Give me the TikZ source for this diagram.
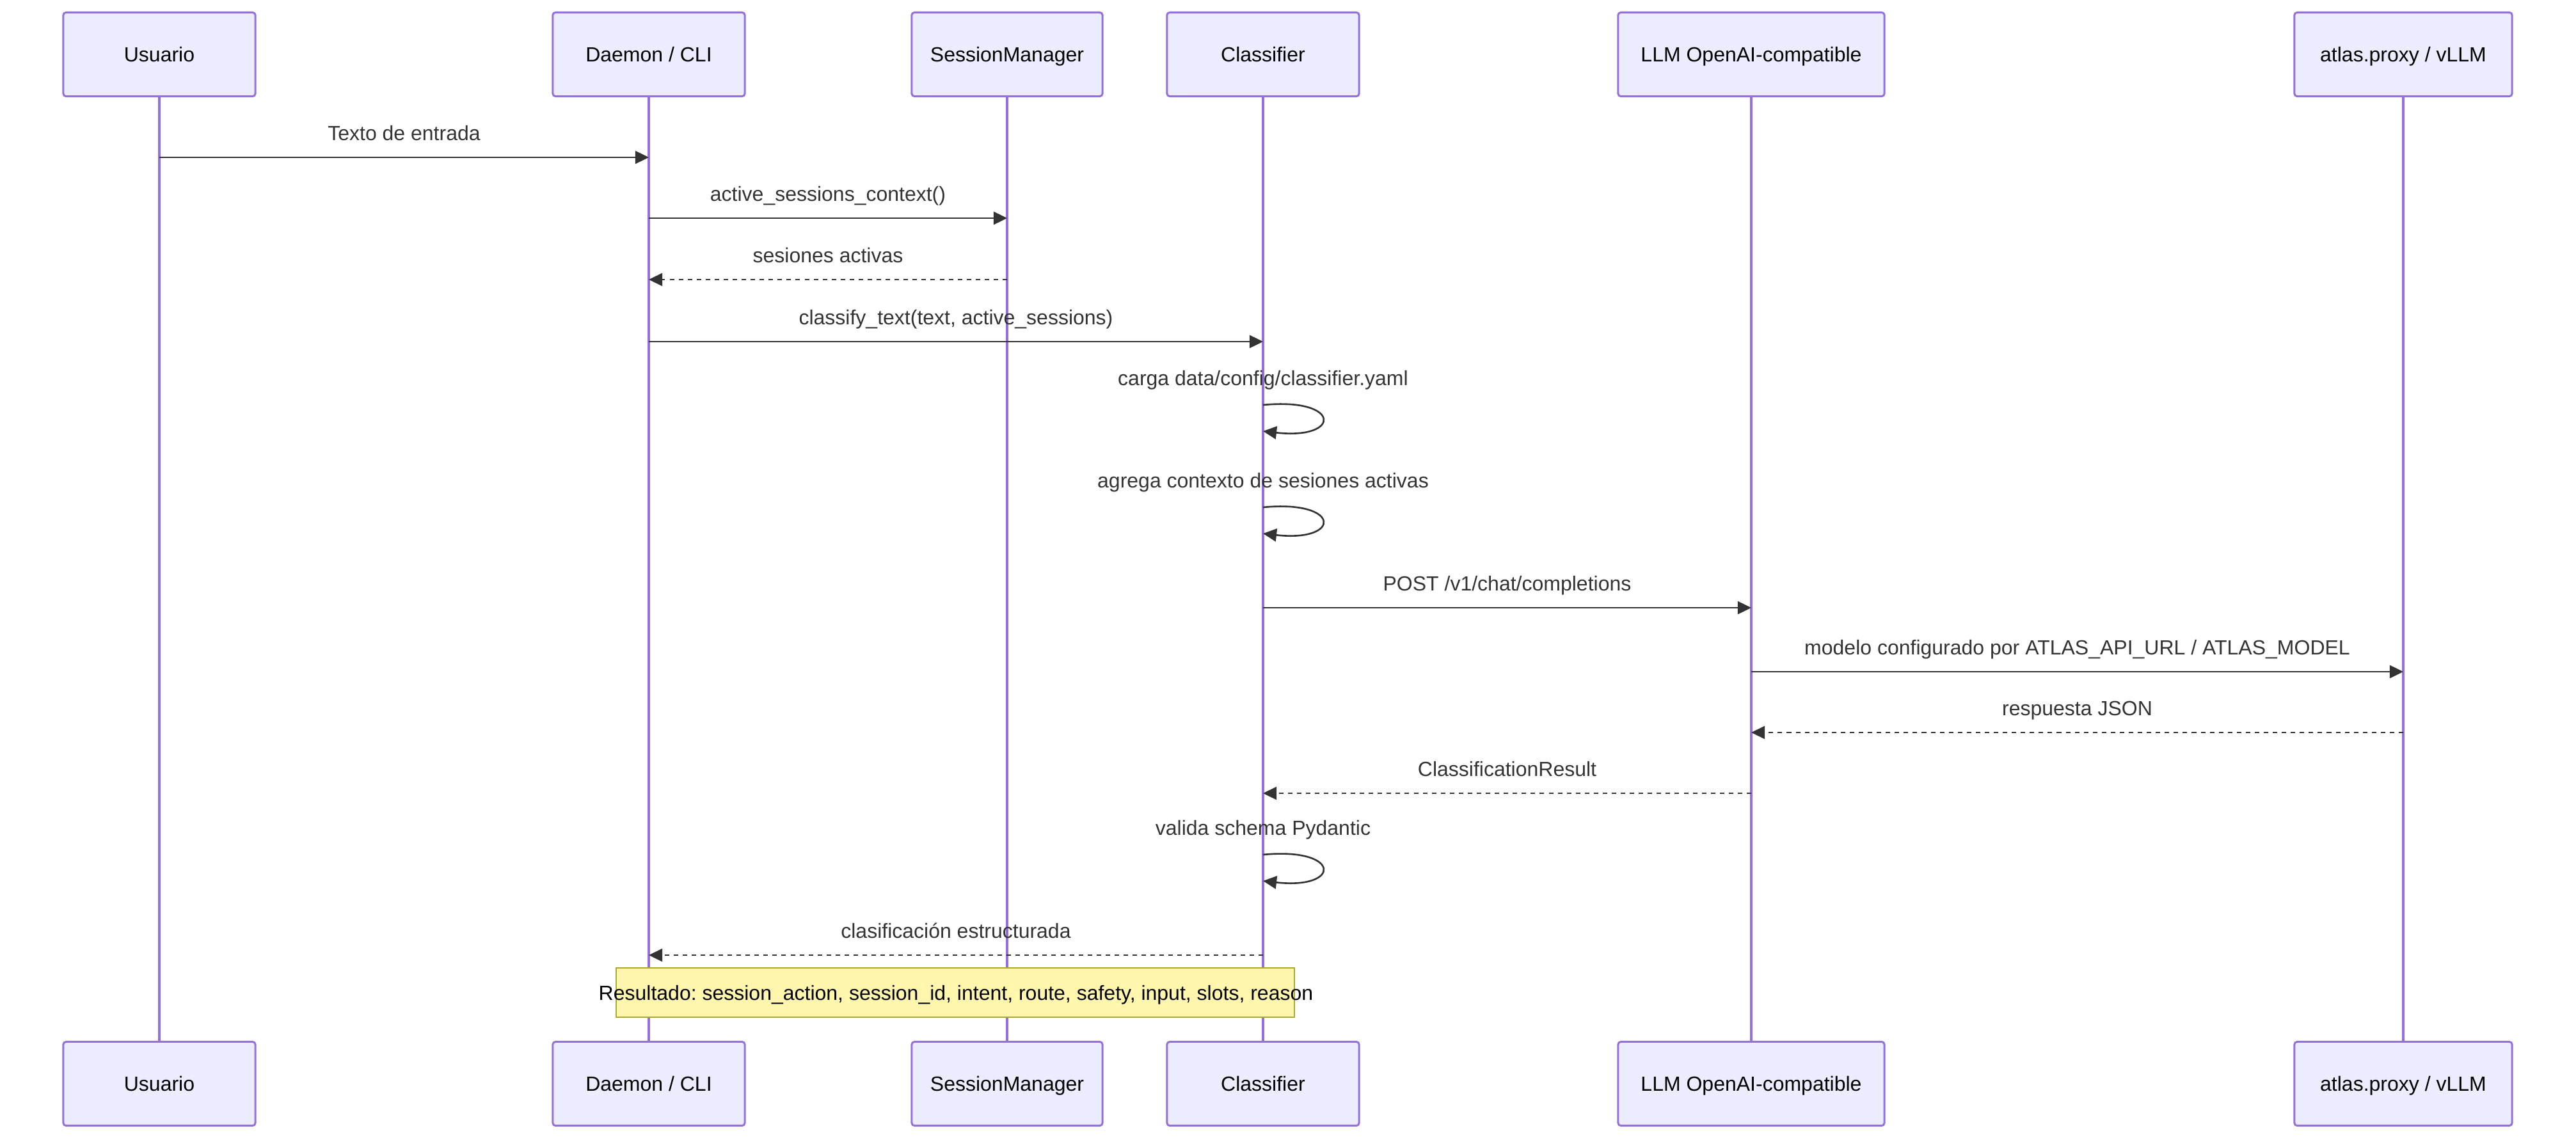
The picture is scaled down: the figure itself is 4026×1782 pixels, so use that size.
\documentclass[tikz,border=0pt]{standalone}
\usepackage{fontspec}
\setmainfont{Liberation Sans}
\usetikzlibrary{arrows.meta,calc,positioning}
\frenchspacing
\definecolor{SeqLine}{HTML}{9370DB}
\definecolor{SeqFill}{HTML}{ECECFF}
\definecolor{SeqInk}{HTML}{333333}
\definecolor{NoteFill}{HTML}{FFF5AD}
\definecolor{NoteLine}{HTML}{AAAA33}
\tikzset{
  every node/.style={font=\fontsize{9.1}{10.9}\selectfont, text=SeqInk},
  actor/.style={draw=SeqLine, line width=0.85pt, fill=SeqFill, rounded corners=1.2pt, minimum height=1.31cm, text height=0.22cm, text depth=0pt, text=black},
  lifeline/.style={draw=SeqLine, line width=1pt},
  call/.style={-{Triangle[length=6pt,width=5.7pt]}, draw=SeqInk, line width=0.75pt},
  reply/.style={call, dash pattern=on 2pt off 2pt},
  msg/.style={inner sep=0pt, anchor=base},
  notebox/.style={draw=NoteLine, fill=NoteFill, line width=0.8pt},
}

\begin{document}
\begin{tikzpicture}[x=0.01cm,y=-0.01cm]
  \useasboundingbox (0,0) rectangle (4026,1782);
  % Participants, top row
  \node[actor, minimum width=3cm] (usrT) at (249,85) {Usuario};
  \node[actor, minimum width=3cm] (dmnT) at (1014,85) {Daemon / CLI};
  \node[actor, minimum width=2.98cm] (smgT) at (1574,85) {SessionManager};
  \node[actor, minimum width=3cm] (clsT) at (1974,85) {Classifier};
  \node[actor, minimum width=4.16cm] (llmT) at (2737,85) {LLM OpenAI-compatible};
  \node[actor, minimum width=3.4cm] (atlT) at (3756,85) {atlas.proxy / vLLM};
  % Participants, bottom row
  \node[actor, minimum width=3cm] (usrB) at (249,1694) {Usuario};
  \node[actor, minimum width=3cm] (dmnB) at (1014,1694) {Daemon / CLI};
  \node[actor, minimum width=2.98cm] (smgB) at (1574,1694) {SessionManager};
  \node[actor, minimum width=3cm] (clsB) at (1974,1694) {Classifier};
  \node[actor, minimum width=4.16cm] (llmB) at (2737,1694) {LLM OpenAI-compatible};
  \node[actor, minimum width=3.4cm] (atlB) at (3756,1694) {atlas.proxy / vLLM};
  % Lifelines
  \draw[lifeline] (usrT) -- (usrB);
  \draw[lifeline] (dmnT) -- (dmnB);
  \draw[lifeline] (smgT) -- (smgB);
  \draw[lifeline] (clsT) -- (clsB);
  \draw[lifeline] (llmT) -- (llmB);
  \draw[lifeline] (atlT) -- (atlB);
  % Message rows
  \coordinate (y1) at (0,246);
  \coordinate (y2) at (0,341);
  \coordinate (y3) at (0,437);
  \coordinate (y4) at (0,534);
  \coordinate (y5) at (0,633);
  \coordinate (y5e) at (0,674);
  \coordinate (y6) at (0,793);
  \coordinate (y6e) at (0,834);
  \coordinate (y7) at (0,950);
  \coordinate (y8) at (0,1050);
  \coordinate (y9) at (0,1145);
  \coordinate (y10) at (0,1240);
  \coordinate (y11) at (0,1336);
  \coordinate (y11e) at (0,1377);
  \coordinate (y12) at (0,1493);
  % Calls and replies
  \draw[call] (usrT |- y1) -- (dmnT |- y1)
    node[msg, midway, yshift=0.26cm] (m1) {Texto de entrada};
  \draw[call] (dmnT |- y2) -- (smgT |- y2)
    node[msg, midway, yshift=0.26cm] (m2) {active\_sessions\_context()};
  \draw[reply] (smgT |- y3) -- (dmnT |- y3)
    node[msg, midway, yshift=0.26cm] (m3) {sesiones activas};
  \draw[call] (dmnT |- y4) -- (clsT |- y4)
    node[msg, midway, yshift=0.26cm] (m4) {classify\_text(text, active\_sessions)};
  % Self calls on Classifier
  \node[msg, yshift=0.30cm] (m5) at (clsT |- y5) {carga data/config/classifier.yaml};
  \draw[call] (clsT |- y5) .. controls +(123,-12) and +(123,14) .. (clsT |- y5e);
  \node[msg, yshift=0.30cm] (m6) at (clsT |- y6) {agrega contexto de sesiones activas};
  \draw[call] (clsT |- y6) .. controls +(123,-12) and +(123,14) .. (clsT |- y6e);
  \draw[call] (clsT |- y7) -- (llmT |- y7)
    node[msg, midway, yshift=0.26cm] (m7) {POST /v1/chat/completions};
  \draw[call] (llmT |- y8) -- (atlT |- y8)
    node[msg, midway, yshift=0.26cm] (m8) {modelo configurado por ATLAS\_API\_URL / ATLAS\_MODEL};
  \draw[reply] (atlT |- y9) -- (llmT |- y9)
    node[msg, midway, yshift=0.26cm] (m9) {respuesta JSON};
  \draw[reply] (llmT |- y10) -- (clsT |- y10)
    node[msg, midway, yshift=0.26cm] (m10) {ClassificationResult};
  \node[msg, yshift=0.30cm] (m11) at (clsT |- y11) {valida schema Pydantic};
  \draw[call] (clsT |- y11) .. controls +(123,-12) and +(123,14) .. (clsT |- y11e);
  \draw[reply] (clsT |- y12) -- (dmnT |- y12)
    node[msg, midway, yshift=0.26cm] (m12) {clasificación estructurada};
  % Note over Daemon .. Classifier
  \draw[notebox] ($(dmnT |- 0,1513)+(-51,0)$) rectangle ($(clsT |- 0,1590)+(49,0)$);
  \node[msg, text=black] (res) at (1494,1563)
    {Resultado: session\_action, session\_id, intent, route, safety, input, slots, reason};
\end{tikzpicture}
\end{document}
